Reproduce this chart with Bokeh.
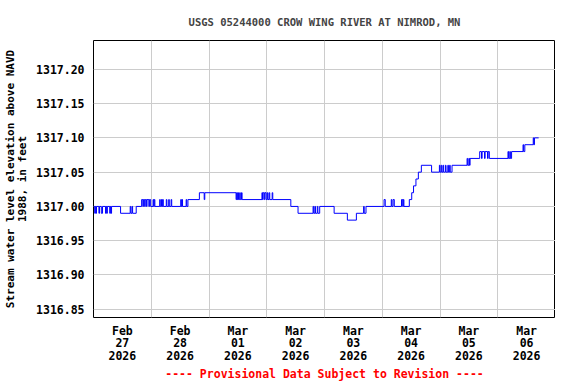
import pandas as pd
from bokeh.plotting import figure
from bokeh.models import FixedTicker, PrintfTickFormatter, Range1d
from bokeh.embed import file_html
from bokeh.resources import INLINE

# ---------------- data (change points of the gage-height series) ----------------
times = [
    "2026-02-27 00:00", "2026-02-27 00:30", "2026-02-27 00:45", "2026-02-27 01:00", "2026-02-27 01:15",
    "2026-02-27 02:15", "2026-02-27 02:30", "2026-02-27 03:15", "2026-02-27 03:45", "2026-02-27 05:00",
    "2026-02-27 05:15", "2026-02-27 05:30", "2026-02-27 05:45", "2026-02-27 06:45", "2026-02-27 07:00",
    "2026-02-27 07:15", "2026-02-27 07:30", "2026-02-27 11:15", "2026-02-27 15:15", "2026-02-27 15:30",
    "2026-02-27 16:00", "2026-02-27 16:15", "2026-02-27 17:45", "2026-02-27 20:00", "2026-02-27 20:30",
    "2026-02-27 20:45", "2026-02-27 21:15", "2026-02-27 21:30", "2026-02-27 22:00", "2026-02-27 22:15",
    "2026-02-27 23:00", "2026-02-27 23:15", "2026-02-27 23:45",
    "2026-02-28 00:45", "2026-02-28 01:00", "2026-02-28 01:15", "2026-02-28 01:30", "2026-02-28 03:30",
    "2026-02-28 03:45", "2026-02-28 04:15", "2026-02-28 04:30", "2026-02-28 04:45", "2026-02-28 05:00",
    "2026-02-28 06:15", "2026-02-28 06:30", "2026-02-28 07:15", "2026-02-28 07:30", "2026-02-28 08:15",
    "2026-02-28 08:30", "2026-02-28 12:15", "2026-02-28 12:30", "2026-02-28 12:45", "2026-02-28 13:00",
    "2026-02-28 14:30", "2026-02-28 14:45", "2026-02-28 15:15", "2026-02-28 20:00", "2026-02-28 22:00",
    "2026-02-28 22:15",
    "2026-03-01 11:15", "2026-03-01 11:30", "2026-03-01 11:45", "2026-03-01 12:00", "2026-03-01 12:15",
    "2026-03-01 12:45", "2026-03-01 13:00", "2026-03-01 13:30", "2026-03-01 13:45", "2026-03-01 22:00",
    "2026-03-01 22:15", "2026-03-01 22:30", "2026-03-01 23:00", "2026-03-01 23:15", "2026-03-01 23:45",
    "2026-03-02 00:15", "2026-03-02 00:30", "2026-03-02 01:00", "2026-03-02 01:15", "2026-03-02 02:15",
    "2026-03-02 02:30", "2026-03-02 10:00", "2026-03-02 13:00", "2026-03-02 19:15", "2026-03-02 19:30",
    "2026-03-02 20:00", "2026-03-02 20:15", "2026-03-02 21:00", "2026-03-02 21:15", "2026-03-02 22:00",
    "2026-03-03 04:00", "2026-03-03 09:30", "2026-03-03 13:15", "2026-03-03 16:15", "2026-03-03 16:30",
    "2026-03-03 17:15",
    "2026-03-04 00:45", "2026-03-04 01:15", "2026-03-04 03:45", "2026-03-04 04:00", "2026-03-04 04:30",
    "2026-03-04 05:00", "2026-03-04 08:00", "2026-03-04 08:30", "2026-03-04 08:45", "2026-03-04 09:00",
    "2026-03-04 11:15", "2026-03-04 12:15", "2026-03-04 13:00", "2026-03-04 14:00", "2026-03-04 15:00",
    "2026-03-04 16:15", "2026-03-04 20:30", "2026-03-04 23:45",
    "2026-03-05 00:00", "2026-03-05 00:30", "2026-03-05 00:45", "2026-03-05 01:15", "2026-03-05 01:30",
    "2026-03-05 02:15", "2026-03-05 02:30", "2026-03-05 03:15", "2026-03-05 03:30", "2026-03-05 04:00",
    "2026-03-05 04:15", "2026-03-05 05:00", "2026-03-05 11:15", "2026-03-05 11:30", "2026-03-05 12:00",
    "2026-03-05 12:15", "2026-03-05 12:30", "2026-03-05 16:30", "2026-03-05 17:15", "2026-03-05 17:30",
    "2026-03-05 18:30", "2026-03-05 18:45", "2026-03-05 19:45", "2026-03-05 20:00", "2026-03-05 20:30",
    "2026-03-06 04:15", "2026-03-06 04:30", "2026-03-06 05:00", "2026-03-06 05:15", "2026-03-06 05:45",
    "2026-03-06 10:30", "2026-03-06 10:45", "2026-03-06 11:15", "2026-03-06 14:45", "2026-03-06 15:00",
    "2026-03-06 15:15", "2026-03-06 17:00",
]
values = [
    1317.00, 1316.99, 1317.00, 1316.99, 1317.00,
    1316.99, 1317.00, 1316.99, 1317.00, 1316.99,
    1317.00, 1316.99, 1317.00, 1316.99, 1317.00,
    1316.99, 1317.00, 1316.99, 1317.00, 1316.99,
    1317.00, 1316.99, 1317.00, 1317.01, 1317.00,
    1317.01, 1317.00, 1317.01, 1317.00, 1317.01,
    1317.00, 1317.01, 1317.00,
    1317.01, 1317.00, 1317.01, 1317.00, 1317.01,
    1317.00, 1317.01, 1317.00, 1317.01, 1317.00,
    1317.01, 1317.00, 1317.01, 1317.00, 1317.01,
    1317.00, 1317.01, 1317.00, 1317.01, 1317.00,
    1317.01, 1317.00, 1317.01, 1317.02, 1317.01,
    1317.02,
    1317.01, 1317.02, 1317.01, 1317.02, 1317.01,
    1317.02, 1317.01, 1317.02, 1317.01, 1317.02,
    1317.01, 1317.02, 1317.01, 1317.02, 1317.01,
    1317.02, 1317.01, 1317.02, 1317.01, 1317.02,
    1317.01, 1317.00, 1316.99, 1317.00, 1316.99,
    1317.00, 1316.99, 1317.00, 1316.99, 1317.00,
    1316.99, 1316.98, 1316.99, 1317.00, 1316.99,
    1317.00,
    1317.01, 1317.00, 1317.01, 1317.00, 1317.01,
    1317.00, 1317.01, 1317.00, 1317.01, 1317.00,
    1317.01, 1317.02, 1317.03, 1317.04, 1317.05,
    1317.06, 1317.05, 1317.06,
    1317.05, 1317.06, 1317.05, 1317.06, 1317.05,
    1317.06, 1317.05, 1317.06, 1317.05, 1317.06,
    1317.05, 1317.06, 1317.07, 1317.06, 1317.07,
    1317.06, 1317.07, 1317.08, 1317.07, 1317.08,
    1317.07, 1317.08, 1317.07, 1317.08, 1317.07,
    1317.08, 1317.07, 1317.08, 1317.07, 1317.08,
    1317.09, 1317.08, 1317.09, 1317.10, 1317.09,
    1317.10, 1317.10,
]

day_dates = ["2026-02-27", "2026-02-28", "2026-03-01", "2026-03-02",
             "2026-03-03", "2026-03-04", "2026-03-05", "2026-03-06"]
day_labels = ["Feb\n27\n2026", "Feb\n28\n2026", "Mar\n01\n2026", "Mar\n02\n2026",
              "Mar\n03\n2026", "Mar\n04\n2026", "Mar\n05\n2026", "Mar\n06\n2026"]
y_ticks = [1316.85, 1316.90, 1316.95, 1317.00, 1317.05, 1317.10, 1317.15, 1317.20]

title_text = "USGS 05244000 CROW WING RIVER AT NIMROD, MN"
y_label = "Stream water level elevation above NAVD\n1988, in feet"
footer_text = "---- Provisional Data Subject to Revision ----"

# ---------------- figure ----------------
FONT = "DejaVu Sans Mono"

x = pd.to_datetime(times)

def ms(ts):
    return float(pd.Timestamp(ts).value // 10**6)

x_start = pd.Timestamp(day_dates[0])
x_end = pd.Timestamp(day_dates[-1]) + pd.Timedelta(days=1)

p = figure(frame_width=462, frame_height=277, x_axis_type="datetime",
           output_backend="svg", toolbar_location=None,
           x_range=Range1d(x_start, x_end),
           y_range=Range1d(1316.838, 1317.242),
           min_border_left=0, min_border_right=0,
           min_border_top=0, min_border_bottom=0)

p.step(x, values, mode="after", line_color="#0000ff", line_width=1)

# title
p.title.text = title_text
p.title.align = "center"
p.title.text_font = FONT
p.title.text_font_size = "10.5px"
p.title.text_font_style = "bold"
p.title.standoff = 26

# frame
p.outline_line_color = "black"
p.outline_line_width = 1
p.background_fill_color = "white"
p.border_fill_color = "white"

# x axis: labels at noon, grid at midnight; footer as the x-axis label
noon_ticks = [ms(pd.Timestamp(d) + pd.Timedelta(hours=12)) for d in day_dates]
mid_ticks = [ms(pd.Timestamp(d)) for d in day_dates] + [ms(x_end)]
p.xaxis.ticker = FixedTicker(ticks=noon_ticks)
p.xaxis.major_label_overrides = {t: lab for t, lab in zip(noon_ticks, day_labels)}
p.xgrid.ticker = FixedTicker(ticks=mid_ticks)
p.xaxis.axis_label = footer_text

p.yaxis.ticker = FixedTicker(ticks=y_ticks)
p.yaxis.formatter = PrintfTickFormatter(format="%.2f")
p.yaxis.axis_label = y_label

for ax in (p.xaxis[0], p.yaxis[0]):
    ax.axis_line_color = None
    ax.major_tick_in = 0
    ax.major_tick_out = 0
    ax.minor_tick_in = 0
    ax.minor_tick_out = 0
    ax.major_label_text_font = FONT
    ax.major_label_text_font_size = "11.5px"
    ax.major_label_text_font_style = "bold"
    ax.major_label_text_color = "black"
    ax.major_label_standoff = 8
    ax.axis_label_text_font = FONT
    ax.axis_label_text_font_size = "11px"
    ax.axis_label_text_font_style = "bold"
    ax.axis_label_text_color = "black"
    ax.axis_label_standoff = 4

p.xaxis.major_label_standoff = 6
p.xaxis.axis_label_text_color = "#ff0000"
p.xaxis.axis_label_text_font_size = "11.5px"
p.xaxis.axis_label_standoff = 1
p.yaxis.major_label_standoff = 9
p.xaxis.major_label_text_line_height = 0.9
p.yaxis.axis_label_text_line_height = 0.95

for g in (p.xgrid[0], p.ygrid[0]):
    g.grid_line_color = "#cccccc"
    g.grid_line_width = 1

open("out.html", "w").write(file_html(p, INLINE))
